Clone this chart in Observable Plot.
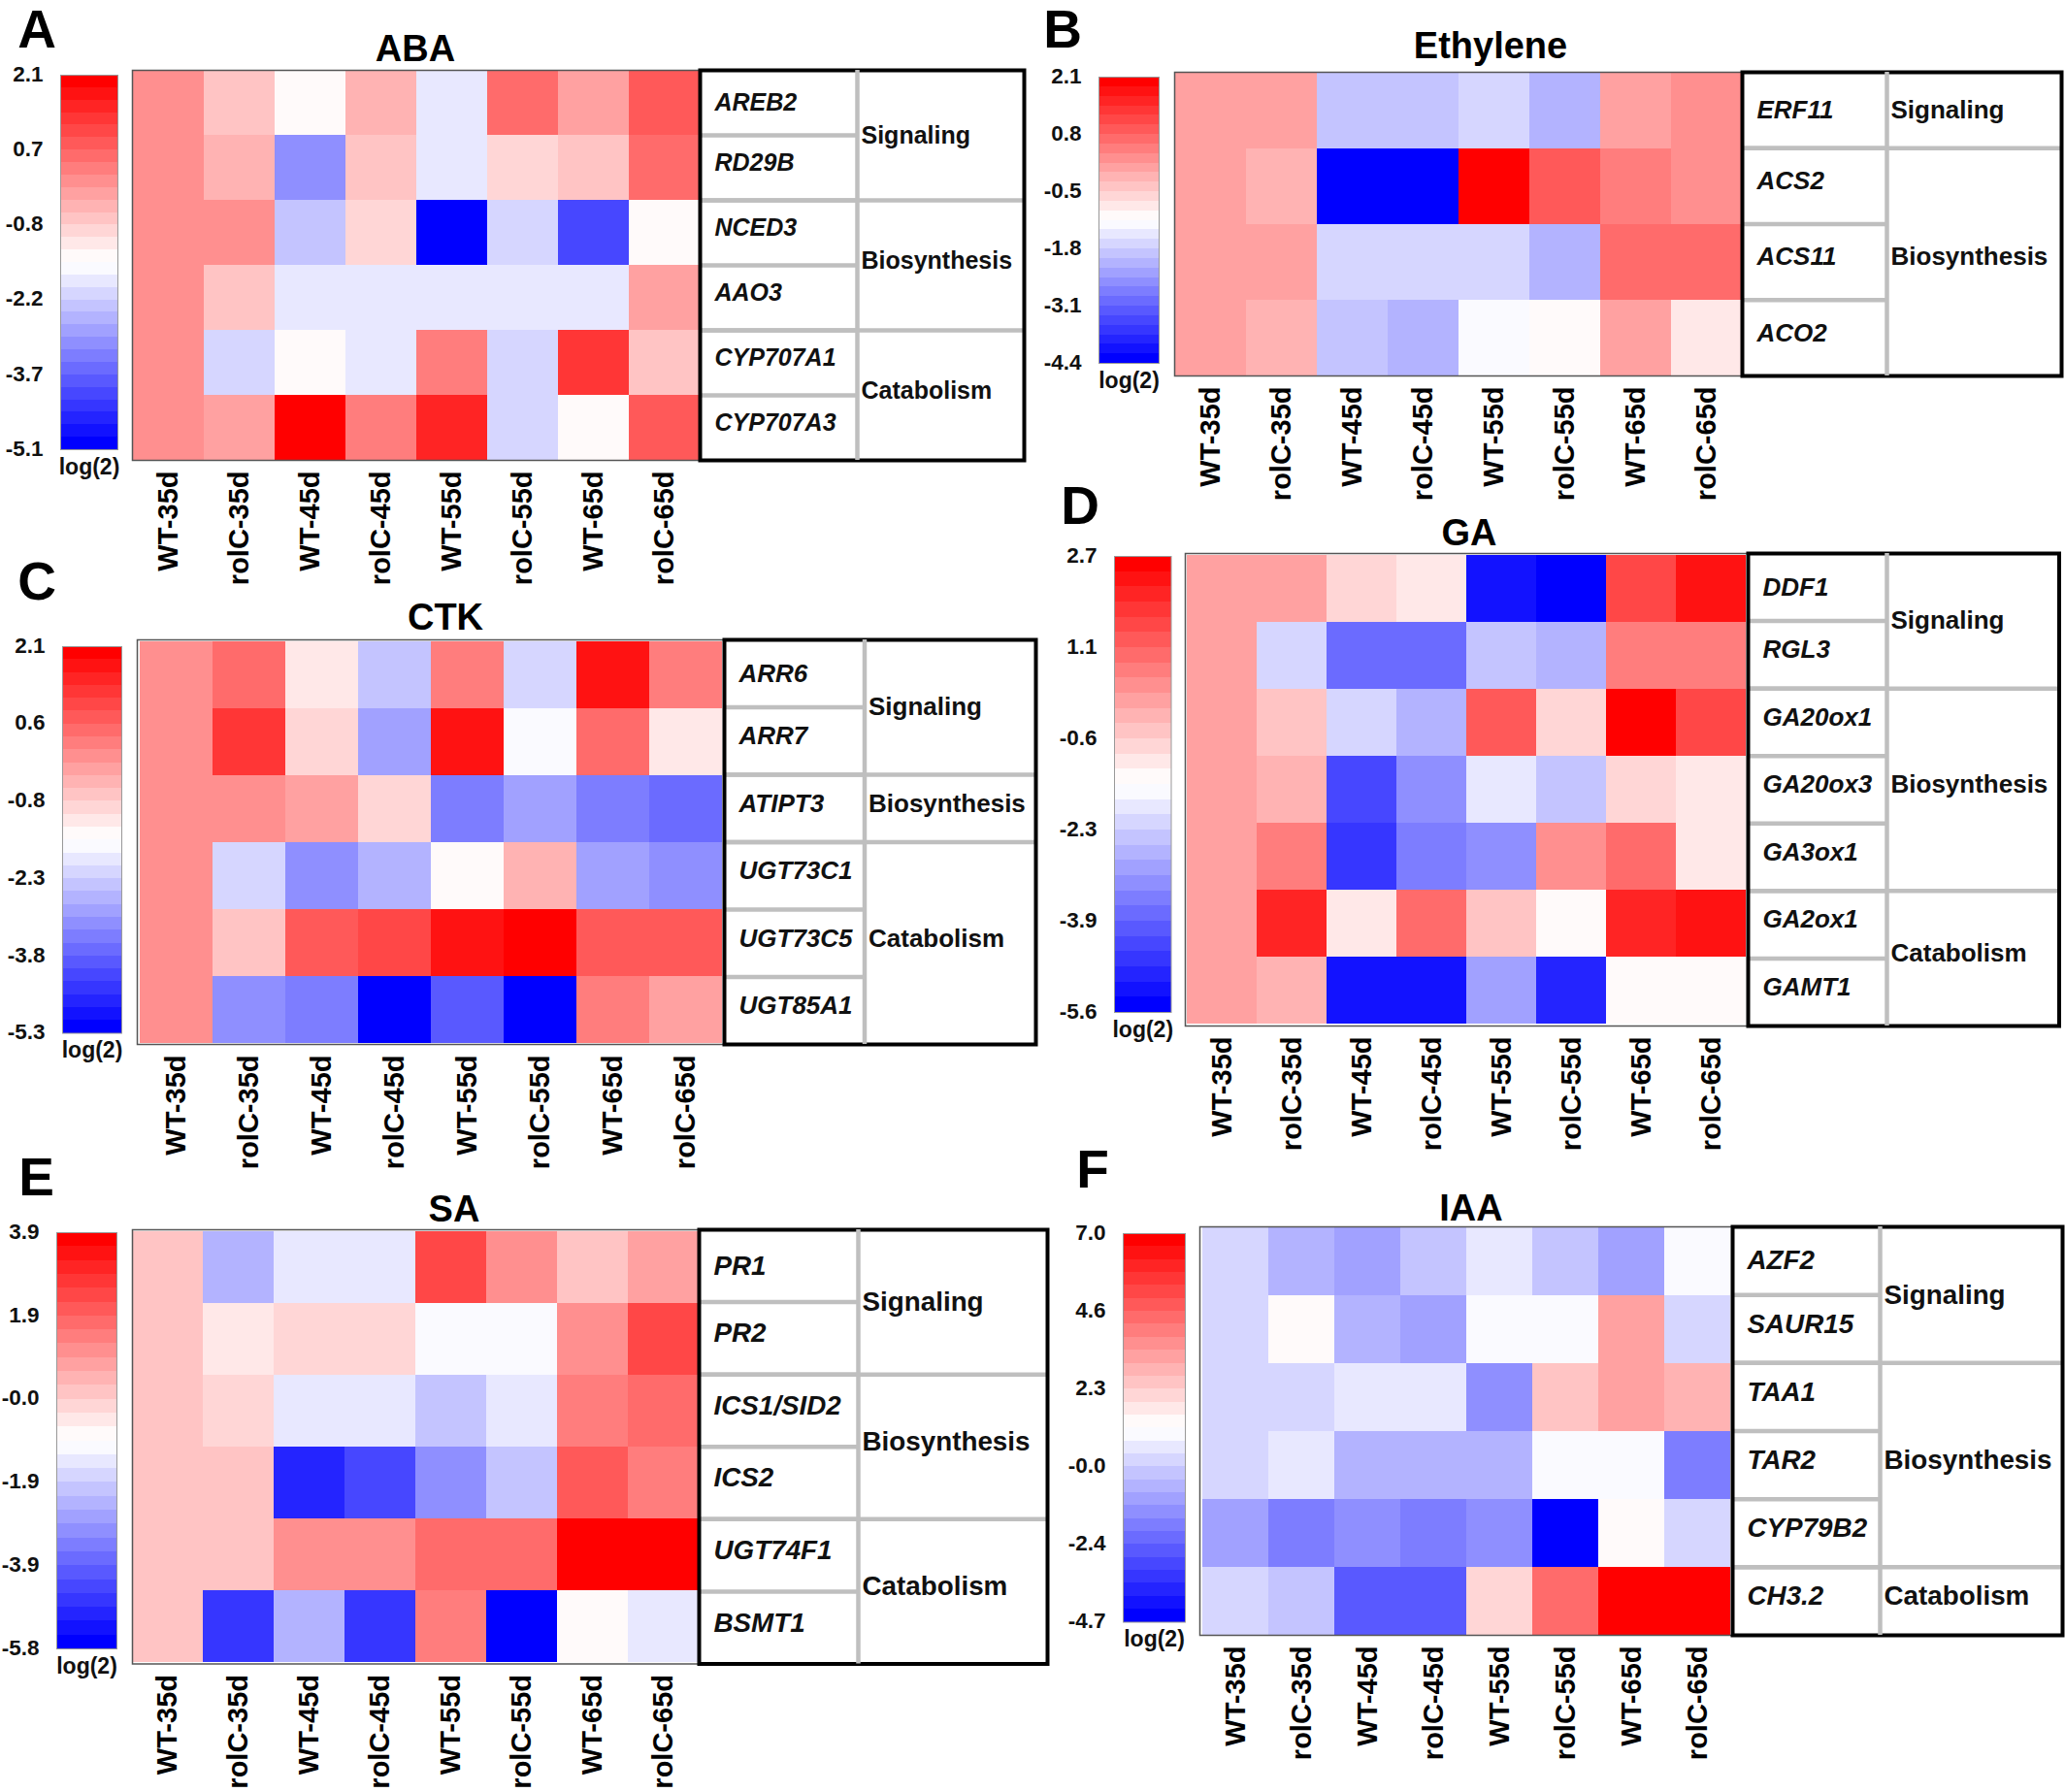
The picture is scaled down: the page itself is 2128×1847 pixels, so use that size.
<!DOCTYPE html>
<html>
<head>
<meta charset="utf-8">
<script src="https://cdn.jsdelivr.net/npm/d3@7"></script>
<script src="https://cdn.jsdelivr.net/npm/@observablehq/plot@0.6"></script>
<style>
  body { margin: 0; background: white; font-family: "Liberation Sans", Arial, sans-serif; }
  #chart { position: relative; width: 2128px; height: 1847px; overflow: hidden; }
  .lbl { position: absolute; transform: translate(-50%, -50%); font-weight: bold; white-space: nowrap; line-height: 0.72; }
</style>
</head>
<body>
<div id="chart"></div>
<script>
const samples = ["WT-35d", "rolC-35d", "WT-45d", "rolC-45d", "WT-55d", "rolC-55d", "WT-65d", "rolC-65d"];

// ABA
const abaGenes = ["AREB2", "RD29B", "NCED3", "AAO3", "CYP707A1", "CYP707A3"];
const abaGroups = [["Signaling", 2], ["Biosynthesis", 2], ["Catabolism", 2]];
const abaTicks = ["2.1", "0.7", "-0.8", "-2.2", "-3.7", "-5.1"];
const abaValues = [
  [0, -0.7, -1.4, -0.4, -1.9, 0.5, -0.2, 0.8],
  [0, -0.4, -3.1, -0.7, -1.9, -0.9, -0.7, 0.5],
  [0, 0, -2.3, -0.9, -5, -2.1, -4, -1.4],
  [0, -0.7, -1.9, -1.9, -1.9, -1.9, -1.9, -0.2],
  [0, -2.1, -1.4, -1.9, 0.3, -2.1, 1.3, -0.7],
  [0, -0.2, 2, 0.3, 1.5, -2.1, -1.4, 0.8]
];

// Ethylene
const ethGenes = ["ERF11", "ACS2", "ACS11", "ACO2"];
const ethGroups = [["Signaling", 1], ["Biosynthesis", 3]];
const ethTicks = ["2.1", "0.8", "-0.5", "-1.8", "-3.1", "-4.4"];
const ethValues = [
  [0, 0, -1.9, -1.9, -1.7, -2.1, 0, 0.3],
  [0, -0.2, -4.3, -4.3, 2, 0.9, 0.5, 0.3],
  [0, 0, -1.7, -1.7, -1.7, -2.1, 0.7, 0.7],
  [0, -0.2, -1.9, -2.1, -1.3, -1, 0, -0.8]
];

// CTK
const ctkGenes = ["ARR6", "ARR7", "ATIPT3", "UGT73C1", "UGT73C5", "UGT85A1"];
const ctkGroups = [["Signaling", 2], ["Biosynthesis", 1], ["Catabolism", 3]];
const ctkTicks = ["2.1", "0.6", "-0.8", "-2.3", "-3.8", "-5.3"];
const ctkValues = [
  [0, 0.5, -1.2, -2.5, 0.2, -2.2, 1.7, 0.2],
  [0, 1.2, -1, -3, 1.7, -1.7, 0.5, -1.2],
  [0, 0, -0.2, -1, -3.5, -3, -3.5, -3.7],
  [0, -2.2, -3.2, -2.7, -1.5, -0.5, -3, -3.2],
  [0, -0.7, 0.7, 1, 1.7, 2, 0.7, 0.7],
  [0, -3.2, -3.5, -5.2, -3.9, -5.2, 0.2, -0.2]
];

// GA
const gaGenes = ["DDF1", "RGL3", "GA20ox1", "GA20ox3", "GA3ox1", "GA2ox1", "GAMT1"];
const gaGroups = [["Signaling", 2], ["Biosynthesis", 3], ["Catabolism", 2]];
const gaTicks = ["2.7", "1.1", "-0.6", "-2.3", "-3.9", "-5.6"];
const gaValues = [
  [0, 0, -0.8, -1, -5.2, -5.5, 1.5, 2.3],
  [0, -2.1, -3.8, -3.8, -2.4, -2.7, 0.6, 0.6],
  [0, -0.5, -2.1, -2.7, 1.2, -0.8, 2.6, 1.5],
  [0, -0.2, -4.4, -3.2, -1.9, -2.4, -0.8, -1],
  [0, 0.6, -4.6, -3.5, -3.2, 0.4, 0.9, -1],
  [0, 2, -1, 0.9, -0.5, -1.3, 2, 2.3],
  [0, -0.2, -5.2, -5.2, -3, -4.9, -1.3, -1.3]
];

// SA
const saGenes = ["PR1", "PR2", "ICS1/SID2", "ICS2", "UGT74F1", "BSMT1"];
const saGroups = [["Signaling", 2], ["Biosynthesis", 2], ["Catabolism", 2]];
const saTicks = ["3.9", "1.9", "-0.0", "-1.9", "-3.9", "-5.8"];
const saValues = [
  [0.1, -2.4, -1.4, -1.4, 2.4, 1.2, 0.2, 0.8],
  [0.1, -0.5, -0.1, -0.1, -1.1, -1.1, 1.2, 2.4],
  [0.1, -0.1, -1.4, -1.4, -2.1, -1.4, 1.5, 1.8],
  [0.1, 0.1, -5, -4.3, -3, -2.1, 2.1, 1.5],
  [0.1, 0.1, 1.2, 1.2, 1.8, 1.8, 3.7, 3.7],
  [0.1, -4.7, -2.4, -4.7, 1.5, -5.6, -0.8, -1.4]
];

// IAA
const iaaGenes = ["AZF2", "SAUR15", "TAA1", "TAR2", "CYP79B2", "CH3.2"];
const iaaGroups = [["Signaling", 2], ["Biosynthesis", 3], ["Catabolism", 1]];
const iaaTicks = ["7.0", "4.6", "2.3", "-0.0", "-2.4", "-4.7"];
const iaaValues = [
  [0, -0.6, -1, -0.2, 0.6, -0.2, -1, 1],
  [0, 1.3, -0.6, -1, 1, 1, 3.3, 0],
  [0, 0, 0.6, 0.6, -1.4, 2.5, 3.3, 2.9],
  [0, 0.6, -0.6, -0.6, -0.6, 1, 1, -1.8],
  [-1, -1.8, -1.4, -1.8, -1.4, -4.5, 1.3, 0],
  [0, -0.2, -2.6, -2.6, 2.1, 4.5, 6.8, 6.8]
];

// blue -> near white -> red, 30 flat steps like the MeV colour bar
const blues = d3.range(15).map(i => `rgb(${i * 17.86},${i * 17.86},255)`);
const reds = d3.range(14, -1, -1).map(i => `rgb(255,${i * 17.86},${i * 17.86})`);
const ramp = [...blues, ...reds];

const font = "Liberation Sans, Arial, sans-serif";
const chart = document.getElementById("chart");

function label(text, x, y, size) {
  const el = document.createElement("div");
  el.className = "lbl";
  el.textContent = text;
  el.style.left = x + "px";
  el.style.top = y + "px";
  el.style.fontSize = size + "px";
  chart.append(el);
}

function place(left, top) {
  return {position: "absolute", left: left + "px", top: top + "px", overflow: "visible",
    maxWidth: "none", background: "transparent", fontFamily: font};
}

function heatmap(genes, values, domain, box) {
  const cells = genes.flatMap((gene, i) => samples.map((s, j) => ({gene, sample: s, v: values[i][j]})));
  return Plot.plot({
    width: box.right - box.left,
    height: box.bottom - box.top + 130,
    marginLeft: 0, marginRight: 0, marginTop: 0, marginBottom: 130,
    style: place(box.left, box.top),
    x: {domain: samples, padding: 0, label: null},
    y: {domain: genes, padding: 0, axis: null},
    color: {type: "quantize", domain, range: ramp},
    marks: [
      Plot.cell(cells, {x: "sample", y: "gene", fill: "v", inset: 0, shapeRendering: "crispEdges"}),
      Plot.frame({stroke: "#555", strokeWidth: 1.5}),
      Plot.axisX({anchor: "bottom", tickRotate: -90, tickSize: 7, tickPadding: 4, fontSize: 29,
        fontWeight: "bold", fill: "#000", stroke: "none", label: null})
    ]
  });
}

function geneTable(genes, groups, box, textSize) {
  const n = genes.length;
  const rows = genes.map((gene, i) => ({gene, y: i + 0.5, edge: i}));
  let at = 0;
  const spans = groups.map(([name, count]) => {
    const g = {name, y1: at, y2: at + count};
    at += count;
    return g;
  });
  const w = box.tableRight - box.right;
  const split = (box.divider - box.right) / w;
  const geneText = {y: "y", text: "gene", frameAnchor: "left", dx: 15, fontSize: textSize, fontWeight: "bold",
    fontStyle: "italic", fill: "#111"};
  const groupText = {x: () => split, y: d => (d.y1 + d.y2) / 2, text: "name", textAnchor: "start", dx: 4,
    fontSize: textSize, fontWeight: "bold", fill: "#111"};
  return Plot.plot({
    width: w,
    height: box.bottom - box.top,
    margin: 0,
    style: place(box.right, box.top),
    x: {domain: [0, 1], axis: null},
    y: {domain: [0, n], reverse: true, axis: null},
    marks: [
      Plot.ruleY(rows.slice(1), {y: "edge", x1: 0, x2: split, stroke: "#bfbfbf", strokeWidth: 4.5}),
      Plot.ruleY(spans.slice(1), {y: "y1", x1: 0, x2: 1, stroke: "#bfbfbf", strokeWidth: 4.5}),
      Plot.frame({stroke: "#000", strokeWidth: 4}),
      Plot.ruleX([split], {stroke: "#bfbfbf", strokeWidth: 4.5}),
      // first row sits centred in the original, the rest slightly above centre
      Plot.text(rows.slice(0, 1), {...geneText, dy: 0}),
      Plot.text(rows.slice(1), {...geneText, dy: -5}),
      Plot.text(spans.slice(0, 1), {...groupText, dy: 0}),
      Plot.text(spans.slice(1), {...groupText, dy: -5})
    ]
  });
}

function colorBar(ticks, domain, box) {
  const [lo, hi] = domain;
  const step = (hi - lo) / ramp.length;
  const steps = ramp.map((c, k) => ({y1: lo + k * step, y2: lo + (k + 1) * step, fill: c}));
  // the labels are evenly spaced down the bar, whatever their rounded text says
  const marks = ticks.map((t, i) => ({t, y: hi - i * (hi - lo) / (ticks.length - 1)}));
  return Plot.plot({
    width: box.legendRight - box.legendLeft,
    height: box.legendBottom - box.legendTop,
    margin: 0,
    style: place(box.legendLeft, box.legendTop),
    x: {axis: null},
    y: {domain, axis: null},
    marks: [
      Plot.barY(steps, {y1: "y1", y2: "y2", fill: "fill", shapeRendering: "crispEdges"}),
      Plot.frame({stroke: "#999"}),
      Plot.text(marks, {y: "y", text: "t", frameAnchor: "left", textAnchor: "end", dx: -18, dy: -1,
        fontSize: 22.5, fontWeight: "bold", fill: "#111"}),
      Plot.text(["log(2)"], {frameAnchor: "bottom", lineAnchor: "middle", dy: 18, fontSize: 23,
        fontWeight: "bold", fill: "#111"})
    ]
  });
}

const panels = [
  {letter: "A", title: "ABA", genes: abaGenes, groups: abaGroups, ticks: abaTicks, values: abaValues, textSize: 25,
    box: {left: 136, right: 721, top: 72, bottom: 474, tableRight: 1055, divider: 883,
      legendLeft: 62, legendRight: 121, legendTop: 77, legendBottom: 463, titleX: 428, titleY: 51, letterX: 38, letterY: 31}},
  {letter: "B", title: "Ethylene", genes: ethGenes, groups: ethGroups, ticks: ethTicks, values: ethValues, textSize: 26,
    box: {left: 1210, right: 1795, top: 74, bottom: 387, tableRight: 2124, divider: 1944,
      legendLeft: 1132, legendRight: 1194, legendTop: 79, legendBottom: 374, titleX: 1536, titleY: 48, letterX: 1095, letterY: 31}},
  {letter: "C", title: "CTK", genes: ctkGenes, groups: ctkGroups, ticks: ctkTicks, values: ctkValues, textSize: 26,
    box: {left: 141, right: 746, top: 659, bottom: 1076, tableRight: 1067, divider: 890.5,
      legendLeft: 64, legendRight: 125, legendTop: 665.5, legendBottom: 1064, titleX: 459, titleY: 637, letterX: 38, letterY: 600}},
  {letter: "D", title: "GA", genes: gaGenes, groups: gaGroups, ticks: gaTicks, values: gaValues, textSize: 26,
    box: {left: 1221, right: 1800.5, top: 570, bottom: 1057, tableRight: 2121, divider: 1943.5,
      legendLeft: 1147.5, legendRight: 1206, legendTop: 573, legendBottom: 1043, titleX: 1514, titleY: 549.5, letterX: 1113, letterY: 522}},
  {letter: "E", title: "SA", genes: saGenes, groups: saGroups, ticks: saTicks, values: saValues, textSize: 27.8,
    box: {left: 135.5, right: 720, top: 1267, bottom: 1714.5, tableRight: 1079, divider: 884,
      legendLeft: 58, legendRight: 120, legendTop: 1270, legendBottom: 1699, titleX: 468, titleY: 1246.5, letterX: 37.5, letterY: 1214}},
  {letter: "F", title: "IAA", genes: iaaGenes, groups: iaaGroups, ticks: iaaTicks, values: iaaValues, textSize: 27.8,
    box: {left: 1236, right: 1785, top: 1264, bottom: 1685, tableRight: 2125, divider: 1937,
      legendLeft: 1157, legendRight: 1221, legendTop: 1271, legendBottom: 1671.5, titleX: 1516, titleY: 1245.5, letterX: 1126, letterY: 1206}}
];

panels.forEach(p => {
  const domain = [+p.ticks[p.ticks.length - 1], +p.ticks[0]];
  chart.append(heatmap(p.genes, p.values, domain, p.box));
  chart.append(geneTable(p.genes, p.groups, p.box, p.textSize));
  chart.append(colorBar(p.ticks, domain, p.box));
  label(p.title, p.box.titleX, p.box.titleY, 38);
  label(p.letter, p.box.letterX, p.box.letterY, 55);
});
</script>
</body>
</html>
